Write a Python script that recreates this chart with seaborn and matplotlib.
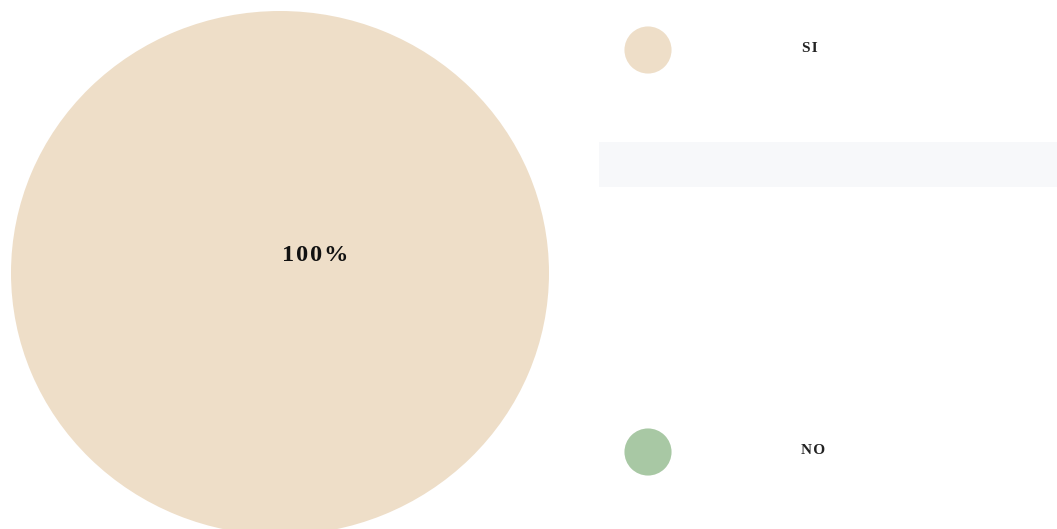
import matplotlib
matplotlib.use("Agg")
import matplotlib.pyplot as plt
import seaborn as sns

categories = ["SI", "NO"]
values = [100, 0]
colors = ["#EEDEC8", "#A8C8A4"]

sns.set_theme(style="white")
plt.rcParams["font.family"] = ["Liberation Serif", "DejaVu Serif"]

W, H = 1057, 529
fig = plt.figure(figsize=(W / 100, H / 100), dpi=100)
fig.patch.set_facecolor("white")

# Pie area (slightly taller than wide, bottom runs past the canvas)
pie_ax = fig.add_axes([11 / W, -6 / H, 538 / W, 524 / H])
total = sum(values)
pie_ax.pie(values, colors=colors, startangle=90, counterclock=False,
           radius=1, wedgeprops=dict(linewidth=0))
pie_ax.set_aspect("auto")
pie_ax.set_xlim(-1, 1)
pie_ax.set_ylim(-1, 1)
pie_ax.axis("off")
for v in values:
    if v > 0:
        label = "\u200a".join(f"{v / total * 100:.0f}%")
        pie_ax.text(0.13, 0.065, label, ha="center", va="center",
                    fontsize=17.5, fontweight="bold", color="#111111")

# Legend panel on the right, in pixel units
leg_ax = fig.add_axes([599 / W, 0, (W - 599) / W, 1])
leg_ax.set_xlim(599, W)
leg_ax.set_ylim(H, 0)
leg_ax.axis("off")
leg_ax.axhspan(142, 187, color="#F7F8FA", zorder=0, lw=0)
leg_y = [50, 452]
sns.scatterplot(x=[648] * len(categories), y=leg_y, hue=categories,
                palette=dict(zip(categories, colors)), s=1150, linewidth=0,
                legend=False, ax=leg_ax, zorder=2)
leg_ax.set_xlim(599, W)
leg_ax.set_ylim(H, 0)
for cat, y, x in zip(categories, leg_y, [810, 813]):
    leg_ax.text(x, y - 1, "\u200a".join(cat), ha="center", va="center", fontsize=11,
                fontweight="bold", color="#222222")

fig.savefig("out.png", dpi=100, facecolor="white")
